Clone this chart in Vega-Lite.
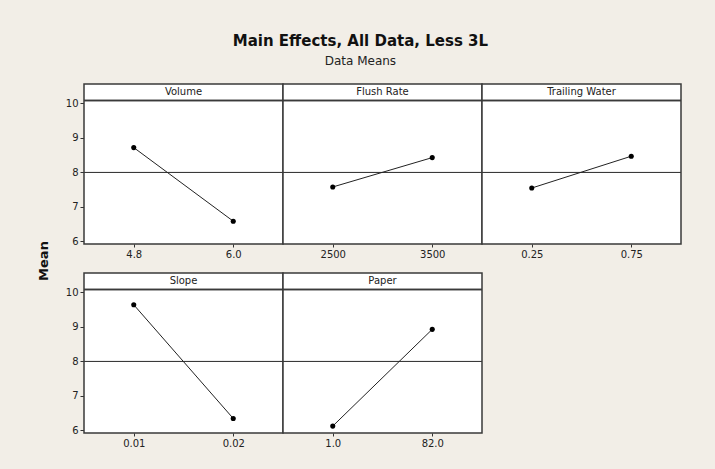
{
  "$schema": "https://vega.github.io/schema/vega-lite/v6.json",
  "background": "#F2EEE7",
  "padding": {"left": 38, "top": 34, "right": 32, "bottom": 20},
  "title": {
    "text": "Main Effects, All Data, Less 3L",
    "subtitle": "Data Means",
    "anchor": "middle",
    "frame": "bounds",
    "font": "DejaVu Sans",
    "fontSize": 15,
    "fontWeight": "bold",
    "color": "#111",
    "subtitleFont": "DejaVu Sans",
    "subtitleFontSize": 12,
    "subtitleColor": "#222",
    "subtitlePadding": 7,
    "offset": 16
  },
  "data": {
    "values": [
      {"factor": "Volume", "level": "4.8", "mean": 8.71},
      {"factor": "Volume", "level": "6.0", "mean": 6.58},
      {"factor": "Flush Rate", "level": "2500", "mean": 7.57},
      {"factor": "Flush Rate", "level": "3500", "mean": 8.42},
      {"factor": "Trailing Water", "level": "0.25", "mean": 7.54},
      {"factor": "Trailing Water", "level": "0.75", "mean": 8.46},
      {"factor": "Slope", "level": "0.01", "mean": 9.63},
      {"factor": "Slope", "level": "0.02", "mean": 6.34},
      {"factor": "Paper", "level": "1.0", "mean": 6.12},
      {"factor": "Paper", "level": "82.0", "mean": 8.92}
    ]
  },
  "vconcat": [
    {
      "title": {
        "text": "Mean",
        "orient": "left",
        "anchor": "middle",
        "frame": "bounds",
        "font": "DejaVu Sans",
        "fontSize": 13,
        "fontWeight": "bold",
        "color": "#111",
        "offset": 14,
        "dx": 5
      },
      "bounds": "flush",
      "facet": {
        "field": "factor",
        "type": "nominal",
        "sort": ["Volume", "Flush Rate", "Trailing Water", "Slope", "Paper"],
        "title": null,
        "header": {"title": null, "labels": false, "labelExpr": "''", "labelFontSize": 0, "labelPadding": 0, "titlePadding": 0}
      },
      "columns": 3,
      "spacing": {"row": 29, "column": 0},
      "resolve": {"scale": {"x": "independent"}, "axis": {"x": "independent"}},
      "spec": {
        "width": 199,
        "height": 160,
        "encoding": {
          "y": {
            "type": "quantitative",
            "scale": {"domain": [5.92, 10.55], "nice": false, "zero": false},
            "axis": {
              "title": null,
              "values": [6, 7, 8, 9, 10],
              "domain": false,
              "grid": false,
              "tickSize": 4,
              "tickColor": "#333",
              "labelPadding": 2
            }
          }
        },
        "layer": [
          {
            "mark": {"type": "rule", "color": "#3a3a3a", "strokeWidth": 1},
            "encoding": {"y": {"datum": 7.99}}
          },
          {
            "mark": {"type": "rule", "color": "#3a3a3a", "strokeWidth": 1.5},
            "encoding": {"y": {"datum": 10.075}}
          },
          {
            "transform": [{"aggregate": [{"op": "count", "as": "n"}], "groupby": ["factor"]}],
            "mark": {"type": "text", "font": "DejaVu Sans", "fontSize": 10, "color": "#222", "baseline": "middle", "align": "center"},
            "encoding": {
              "y": {"datum": 10.31},
              "text": {"field": "factor", "type": "nominal"}
            }
          },
          {
            "mark": {"type": "line", "color": "#222", "strokeWidth": 1},
            "encoding": {
              "x": {
                "field": "level",
                "type": "nominal",
                "scale": {"type": "point", "padding": 0.5},
                "axis": {
                  "title": null,
                  "labelAngle": 0,
                  "domain": false,
                  "grid": false,
                  "tickSize": 3,
                  "tickColor": "#333",
                  "labelPadding": 2
                }
              },
              "y": {"field": "mean", "type": "quantitative"}
            }
          },
          {
            "mark": {"type": "point", "filled": true, "color": "#000", "opacity": 1, "size": 26},
            "encoding": {
              "x": {"field": "level", "type": "nominal"},
              "y": {"field": "mean", "type": "quantitative"}
            }
          }
        ]
      }
    }
  ],
  "config": {
    "view": {"fill": "white", "stroke": "#3a3a3a", "strokeWidth": 1.5},
    "header": {"labels": false, "title": null, "labelPadding": 0},
    "headerFacet": {"labels": false, "title": null, "labelPadding": 0},
    "axis": {
      "labelFont": "DejaVu Sans",
      "labelFontSize": 10,
      "labelColor": "#222"
    }
  }
}
